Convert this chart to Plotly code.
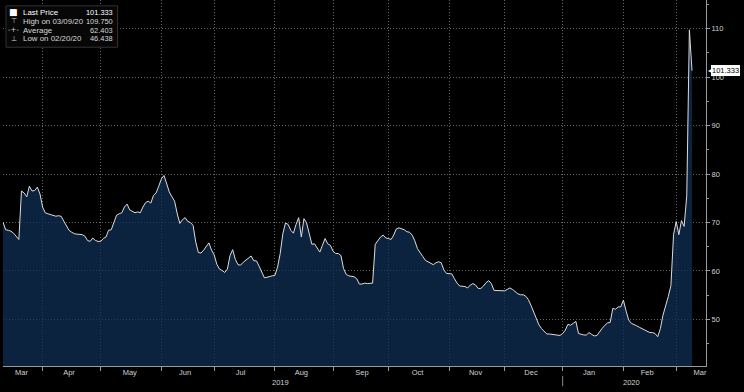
import pandas as pd
import plotly.graph_objects as go

# ---- data (daily, weekdays from 2019-03-11) ----
start_date = "2019-03-11"
values = [
    70.1, 68.5, 68.4, 68.2, 67.8, 67.2, 66.5, 76.5, 76.1, 75.3,
    77.5, 76.5, 76.6, 77.3, 75.9, 73.2, 72.0, 71.8, 71.6, 71.4,
    71.3, 71.4, 71.3, 70.3, 69.4, 68.4, 68.0, 67.7, 67.6, 67.5,
    67.5, 67.2, 66.3, 66.1, 66.8, 66.3, 66.1, 66.1, 66.7, 67.0,
    68.4, 68.5, 70.1, 71.5, 71.8, 72.0, 73.2, 73.8, 72.6, 72.3,
    72.0, 72.2, 72.0, 73.2, 74.1, 74.4, 74.0, 75.6, 76.1, 77.5,
    79.0, 79.7, 77.9, 76.3, 75.3, 74.4, 71.8, 69.8, 70.6, 71.0,
    70.2, 70.0, 69.4, 66.0, 63.8, 63.7, 64.3, 65.1, 65.8, 64.3,
    63.3, 61.4, 60.4, 60.1, 59.7, 60.4, 63.2, 64.4, 62.4, 61.3,
    61.2, 61.8, 62.2, 62.6, 63.1, 62.1, 62.1, 61.0, 59.6, 58.6,
    58.7, 58.9, 59.0, 59.1, 60.8, 63.6, 67.7, 69.9, 69.6, 68.4,
    67.8, 69.6, 71.0, 67.0, 70.8, 69.9, 67.4, 65.5, 65.6, 64.8,
    63.9, 65.3, 66.7, 65.6, 65.3, 64.1, 63.6, 63.6, 63.2, 60.5,
    59.3, 59.0, 58.9, 58.8, 58.4, 57.3, 57.3, 57.5, 57.4, 57.4,
    57.5, 65.5, 66.2, 67.0, 67.4, 66.8, 66.7, 66.5, 67.4, 68.7,
    68.9, 68.7, 68.5, 68.1, 68.0, 67.4, 66.2, 64.6, 63.7, 63.0,
    62.2, 61.9, 61.7, 61.3, 61.7, 61.9, 61.7, 60.2, 59.5, 59.5,
    59.4, 58.4, 57.5, 56.9, 56.9, 56.8, 56.5, 57.1, 57.4, 57.1,
    56.4, 56.4, 56.9, 57.6, 58.0, 57.4, 56.0, 56.0, 56.0, 56.0,
    55.9, 56.2, 56.5, 56.2, 55.8, 55.3, 55.1, 55.1, 54.8, 54.1,
    52.9, 51.6, 49.9, 48.9, 48.1, 47.5, 47.0, 47.0, 46.9, 46.9,
    46.8, 46.7, 47.1, 47.8, 49.0, 48.8, 49.2, 49.6, 47.1, 46.9,
    46.8, 46.8, 47.3, 46.9, 46.6, 46.7, 47.5, 48.2, 48.8, 49.3,
    49.4, 52.3, 52.1, 52.6, 52.6, 54.0, 51.8, 49.9, 49.2, 49.0,
    48.7, 48.4, 48.1, 47.9, 47.6, 47.3, 47.3, 47.1, 46.438, 48.1,
    50.9, 52.7, 54.7, 57.0, 67.5, 70.2, 67.5, 70.4, 69.2, 75.5,
    109.75, 101.333,
]
dates = pd.bdate_range(start_date, periods=len(values))

month_labels = ["Mar", "Apr", "May", "Jun", "Jul", "Aug", "Sep",
                "Oct", "Nov", "Dec", "Jan", "Feb", "Mar"]
month_label_dates = ["2019-03-20", "2019-04-15", "2019-05-16", "2019-06-14",
                     "2019-07-15", "2019-08-15", "2019-09-17", "2019-10-16",
                     "2019-11-15", "2019-12-16", "2020-01-15", "2020-02-14",
                     "2020-03-13"]
legend_labels = ["Last Price", "High on 03/09/20", "Average", "Low on 02/20/20"]
legend_values = ["101.333", "109.750", "62.403", "46.438"]
legend_icons = ["\u25A0", "\u22A4", "-+-", "\u22A5"]
year_labels = ["2019", "2020"]
year_label_dates = ["2019-08-05", "2020-02-06"]
year_boundary = "2020-01-01"

x_range = ["2019-03-11", "2020-03-17 07:00"]
y_range = [40.4, 115.9]

FONT = "Liberation Sans, Arial, sans-serif"
GRID = "#666666"
DASH = "1px,2px"
TXT = "#d0d0d0"
AX = "#9a9a9a"

fig = go.Figure()
fig.add_trace(go.Scatter(
    x=dates, y=values, mode="lines",
    line=dict(color="#dcdcdc", width=1),
    fill="tozeroy", fillcolor="rgba(16,46,84,0.76)",
    hoverinfo="skip", showlegend=False,
))
# invisible trace to carry the label axis
fig.add_trace(go.Scatter(x=[dates[0]], y=[values[0]], xaxis="x2", mode="markers",
                         marker=dict(opacity=0), hoverinfo="skip", showlegend=False))

breaks = [dict(bounds=["sat", "mon"])]
fig.update_layout(
    width=744, height=392,
    margin=dict(l=3, r=38, t=0, b=26),
    paper_bgcolor="black", plot_bgcolor="black",
    font=dict(family=FONT, size=7.5, color=TXT),
    showlegend=False,
    xaxis=dict(
        type="date", range=x_range, rangebreaks=breaks,
        dtick="M1", tick0="2019-01-01", showticklabels=False,
        ticks="outside", ticklen=4, tickcolor=AX,
        showgrid=True, gridcolor=GRID, griddash=DASH, gridwidth=1,
        showline=True, linecolor=AX, linewidth=1,
        zeroline=False, fixedrange=True,
    ),
    xaxis2=dict(
        type="date", range=x_range, rangebreaks=breaks,
        overlaying="x", anchor="y", side="bottom", matches="x",
        tickmode="array", tickvals=month_label_dates, ticktext=month_labels,
        ticks="", showgrid=False, showline=False, zeroline=False,
        tickfont=dict(size=7.5, color=TXT), fixedrange=True,
    ),
    yaxis=dict(
        side="right", range=y_range,
        tick0=0, dtick=10,
        ticks="outside", ticklen=3, tickcolor=AX,
        minor=dict(dtick=5, ticks="outside", ticklen=2, tickcolor=AX, showgrid=False),
        showgrid=True, gridcolor=GRID, griddash=DASH, gridwidth=1,
        showline=True, linecolor=AX, linewidth=1,
        tickfont=dict(size=7.5, color=TXT),
        zeroline=False, fixedrange=True,
    ),
)

# last price tag
fig.add_annotation(
    xref="paper", yref="y", x=1, y=values[-1], xanchor="left", xshift=0,
    text="\u25C0", showarrow=False,
    font=dict(size=8, color="white", family="DejaVu Sans"),
)
fig.add_annotation(
    xref="paper", yref="y", x=1, y=values[-1], xanchor="left", xshift=5,
    text=f"{values[-1]:.3f}", showarrow=False,
    bgcolor="white", bordercolor="white", borderpad=0,
    font=dict(size=7.5, color="black", family=FONT),
)

# year labels
for lab, d in zip(year_labels, year_label_dates):
    fig.add_annotation(xref="x", yref="paper", x=d, y=-0.044, text=lab,
                       showarrow=False, yanchor="middle",
                       font=dict(size=7.5, color=TXT, family=FONT))
fig.add_shape(type="line", xref="x", yref="paper",
              x0=year_boundary, x1=year_boundary, y0=-0.027, y1=-0.055,
              line=dict(color="#8a8a8a", width=1))

# legend box
fig.add_shape(type="rect", xref="paper", yref="paper",
              x0=0.0043, x1=0.163, y0=0.871, y1=0.984,
              fillcolor="#070707", line=dict(color="#333333", width=1), layer="above")
row_y = [0.966, 0.942, 0.918, 0.894]
for i, (lab, val, ic) in enumerate(zip(legend_labels, legend_values, legend_icons)):
    col = "white" if i == 0 else "#d8d8d8"
    fig.add_annotation(xref="paper", yref="paper", x=0.015, y=row_y[i],
                       text=ic, showarrow=False, xanchor="center", yanchor="middle",
                       font=dict(size=7 if i != 0 else 9, color="#cfcfcf" if i else "white",
                                 family="DejaVu Sans"))
    fig.add_annotation(xref="paper", yref="paper", x=0.026, y=row_y[i],
                       text=lab, showarrow=False, xanchor="left", yanchor="middle",
                       font=dict(size=7.9, color=col, family=FONT))
    fig.add_annotation(xref="paper", yref="paper", x=0.160, y=row_y[i],
                       text=val, showarrow=False, xanchor="right", yanchor="middle",
                       font=dict(size=7.4, color=col, family=FONT))

fig.write_html("out.html", config={"displayModeBar": False},
               post_script="document.body.style.margin='0px';")
